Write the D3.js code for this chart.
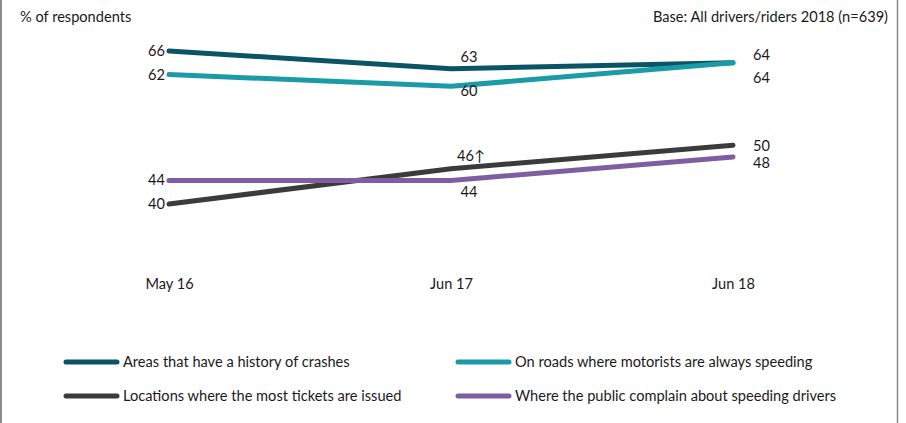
<!DOCTYPE html>
<html>
<head>
<meta charset="utf-8">
<script src="https://cdn.jsdelivr.net/npm/d3@7"></script>
<style>
  html, body { margin: 0; padding: 0; background: #fff; }
  svg { display: block; font-family: Lato, "Open Sans", sans-serif; }
  text { fill: #1a1a1a; font-size: 14.6px; }
</style>
</head>
<body>
<svg id="chart" width="906" height="423"></svg>
<script>
// Survey waves
const waves = ["May 16", "Jun 17", "Jun 18"];

// Share of respondents per wave
const crashHistory   = [66, 63, 64];
const alwaysSpeeding = [62, 60, 64];
const mostTickets    = [40, 46, 50];
const publicComplain = [44, 44, 48];

const seriesNames = [
  "Areas that have a history of crashes",
  "On roads where motorists are always speeding",
  "Locations where the most tickets are issued",
  "Where the public complain about speeding drivers"
];
const seriesColors = ["#0b5466", "#1a9ba6", "#3b3b3b", "#7d5ea3"];

// Label offsets (baseline relative to the point) for the middle and last waves
const series = [
  { name: seriesNames[0], values: crashHistory,   color: seriesColors[0], midDy: -7,  endDy: -3 },
  { name: seriesNames[1], values: alwaysSpeeding, color: seriesColors[1], midDy: 10,  endDy: 20 },
  { name: seriesNames[2], values: mostTickets,    color: seriesColors[2], midDy: -8,  endDy: 6, midText: "46\u2191" },
  { name: seriesNames[3], values: publicComplain, color: seriesColors[3], midDy: 17,  endDy: 11 }
];

const svg = d3.select("#chart");

// Side rules of the frame
svg.append("line").attr("x1", 1).attr("x2", 1).attr("y1", 0).attr("y2", 423)
  .attr("stroke", "#8c8c8c").attr("stroke-width", 2);
svg.append("line").attr("x1", 897.5).attr("x2", 897.5).attr("y1", 0).attr("y2", 423)
  .attr("stroke", "#8c8c8c").attr("stroke-width", 1.5);

const x = d3.scalePoint().domain(waves).range([169, 733]);
const y = d3.scaleLinear().domain([40, 66]).range([204, 51]);

svg.append("text").attr("x", 20).attr("y", 22).text("% of respondents");
svg.append("text").attr("x", 888).attr("y", 22).attr("text-anchor", "end")
  .text("Base: All drivers/riders 2018 (n=639)");

// Category axis (labels only)
const xAxis = svg.append("g").attr("transform", "translate(0,279)")
  .call(d3.axisBottom(x).tickSize(0).tickPadding(0));
xAxis.select(".domain").remove();
xAxis.selectAll("text").style("font-size", "14.6px").style("fill", "#1a1a1a")
  .style("font-family", "Lato, 'Open Sans', sans-serif");

const line = d3.line().x((d, i) => x(waves[i])).y(d => y(d));

series.forEach(s => {
  svg.append("path").datum(s.values)
    .attr("d", line)
    .attr("fill", "none")
    .attr("stroke", s.color)
    .attr("stroke-width", 5)
    .attr("stroke-linecap", "round")
    .attr("stroke-linejoin", "round");
});

// Value labels
series.forEach(s => {
  const v = s.values;
  svg.append("text").attr("x", x(waves[0]) - 4).attr("y", y(v[0]) + 5)
    .attr("text-anchor", "end").text(v[0]);
  svg.append("text").attr("x", x(waves[1]) + (s.midText ? 6 : 18)).attr("y", y(v[1]) + s.midDy)
    .attr("text-anchor", s.midText ? "start" : "middle").text(s.midText || v[1]);
  svg.append("text").attr("x", x(waves[2]) + 20).attr("y", y(v[2]) + s.endDy)
    .text(v[2]);
});

// Legend
const legendPos = [
  { lx: 64, ty: 362 }, { lx: 456, ty: 362 },
  { lx: 64, ty: 396 }, { lx: 456, ty: 396 }
];
series.forEach((s, i) => {
  const p = legendPos[i];
  const g = svg.append("g");
  g.append("line").attr("x1", p.lx + 2).attr("x2", p.lx + 53)
    .attr("y1", p.ty).attr("y2", p.ty)
    .attr("stroke", s.color).attr("stroke-width", 5).attr("stroke-linecap", "round");
  g.append("text").attr("x", p.lx + 59).attr("y", p.ty + 5).text(s.name);
});
</script>
</body>
</html>
